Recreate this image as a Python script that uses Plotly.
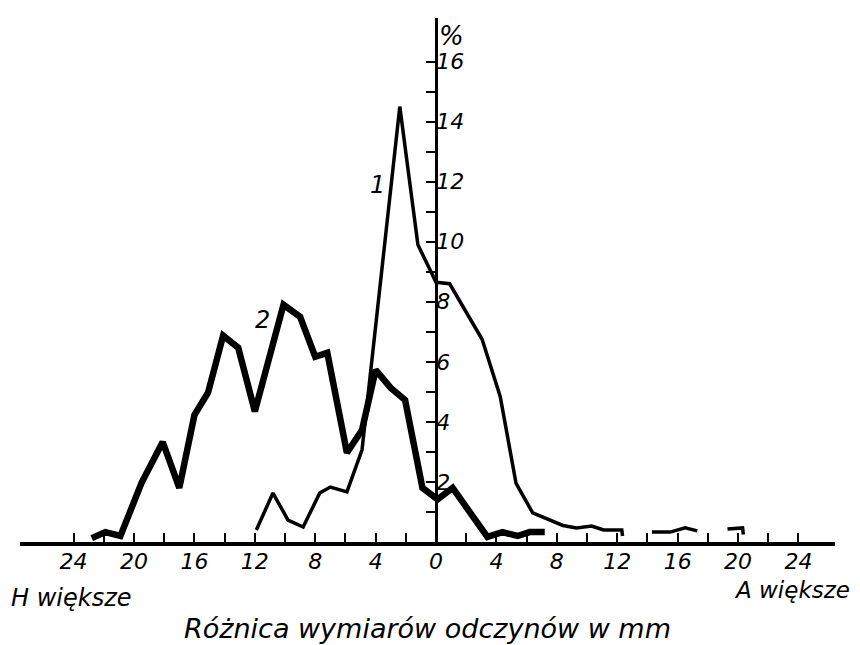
import plotly.graph_objects as go

# Curve 1 (thin line) - difference in mm (negative = H larger), percent
c1_x = [-11.9, -10.8, -9.8, -8.8, -7.7, -7.0, -5.9, -4.9, -2.4, -1.2, 0.0, 0.9, 3.05, 4.25, 5.3, 6.4, 8.4, 9.3, 10.3, 11.1, 12.3, 12.35,
        None, 14.3, 15.5, 16.5, 17.3, None, 19.3, 20.3, 20.35]
c1_y = [0.4, 1.63, 0.73, 0.5, 1.63, 1.83, 1.67, 3.07, 14.5, 9.9, 8.65, 8.6, 6.75, 4.85, 1.95, 0.97, 0.55, 0.47, 0.53, 0.4, 0.4, 0.2,
        None, 0.33, 0.33, 0.47, 0.37, None, 0.43, 0.47, 0.25]

# Curve 2 (thick line)
c2_x = [-22.8, -21.9, -20.9, -19.5, -18.1, -17.0, -16.0, -15.1, -14.1, -13.1, -12.0, -10.1, -9.0, -8.0, -7.2,
        -5.9, -4.9, -4.0, -3.0, -2.05, -0.9, 0.1, 1.1, 3.4, 4.4, 5.4, 6.2, 7.2]
c2_y = [0.13, 0.33, 0.2, 1.97, 3.33, 1.8, 4.23, 4.97, 6.87, 6.47, 4.35, 7.9, 7.5, 6.17, 6.3,
        2.97, 3.73, 5.73, 5.13, 4.73, 1.8, 1.42, 1.8, 0.17, 0.33, 0.2, 0.33, 0.33]

x_tick_vals = [-24, -20, -16, -12, -8, -4, 0, 4, 8, 12, 16, 20, 24]
x_tick_text = ["24", "20", "16", "12", "8", "4", "0", "4", "8", "12", "16", "20", "24"]
x_minor_vals = list(range(-24, 25, 2))
y_tick_vals = [2, 4, 6, 8, 10, 12, 14, 16]
y_tick_text = ["2", "4", "6", "8", "10", "12", "14", "16"]
y_minor_vals = list(range(1, 17))

X_RANGE = [-27.55, 26.42]
Y_RANGE = [0, 17.45]

FONT = "DejaVu Sans, sans-serif"
tick_font = dict(family=FONT, size=22, color="black", style="italic")

fig = go.Figure()
fig.add_trace(go.Scatter(x=c1_x, y=c1_y, mode="lines", connectgaps=False,
                         line=dict(color="black", width=3.5), showlegend=False))
fig.add_trace(go.Scatter(x=c2_x, y=c2_y, mode="lines",
                         line=dict(color="black", width=6.5), showlegend=False))

ypos = (0 - X_RANGE[0]) / (X_RANGE[1] - X_RANGE[0])

# page body has an 8px margin, so the figure is 8px smaller and margins shifted
fig.update_layout(
    width=852, height=637,
    margin=dict(l=12, r=25, t=10, b=103),
    plot_bgcolor="white", paper_bgcolor="white",
    xaxis=dict(range=X_RANGE, showgrid=False, zeroline=False, automargin=False,
               showline=True, linecolor="black", linewidth=3.5,
               tickmode="array", tickvals=x_tick_vals, ticktext=x_tick_text,
               ticks="inside", ticklen=9, tickwidth=2, tickcolor="black",
               ticklabelstandoff=-3,
               minor=dict(tickmode="array", tickvals=x_minor_vals, ticks="inside",
                          ticklen=9, tickwidth=2, tickcolor="black"),
               tickfont=tick_font),
    yaxis=dict(range=Y_RANGE, showgrid=False, zeroline=False, automargin=False,
               anchor="free", position=ypos, side="right",
               showline=True, linecolor="black", linewidth=2.5,
               tickmode="array", tickvals=y_tick_vals, ticktext=y_tick_text,
               ticks="inside", ticklen=9, tickwidth=2, tickcolor="black",
               ticklabelstandoff=-6,
               minor=dict(tickmode="array", tickvals=y_minor_vals, ticks="inside",
                          ticklen=9, tickwidth=2, tickcolor="black"),
               tickfont=tick_font),
)

ann_font = dict(family=FONT, size=24, color="black", style="italic")
fig.add_annotation(x=-3.85, y=11.9, text="1", showarrow=False, font=ann_font)
fig.add_annotation(x=-11.5, y=7.4, text="2", showarrow=False, font=ann_font)
fig.add_annotation(x=0.05, y=16.85, xanchor="left", yanchor="middle", text="%",
                   showarrow=False, font=dict(family=FONT, size=26, color="black", style="italic"))
fig.add_annotation(xref="paper", yref="paper", x=-0.014, y=-0.107, xanchor="left", yanchor="middle",
                   text="H większe", showarrow=False, font=ann_font)
fig.add_annotation(xref="paper", yref="paper", x=1.021, y=-0.092, xanchor="right", yanchor="middle",
                   text="A większe", showarrow=False, font=dict(family=FONT, size=23, color="black", style="italic"))
fig.add_annotation(xref="paper", yref="paper", x=0.5006, y=-0.166, xanchor="center", yanchor="middle",
                   text="Różnica wymiarów odczynów w mm", showarrow=False,
                   font=dict(family=FONT, size=27, color="black", style="italic"))

fig.write_html("out.html")
